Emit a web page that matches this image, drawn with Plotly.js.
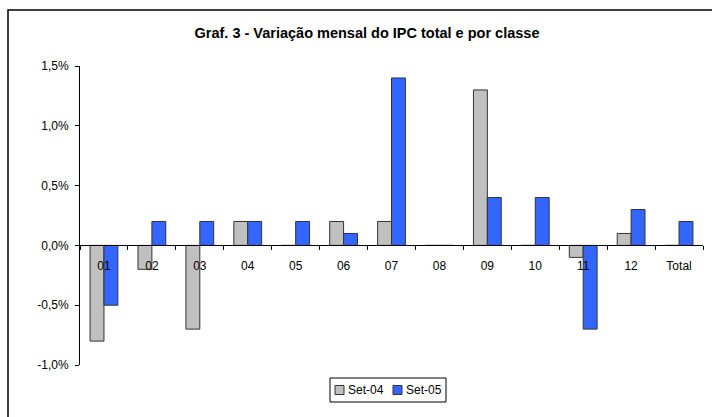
<!DOCTYPE html>
<html><head><meta charset="utf-8">
<script src="https://cdn.plot.ly/plotly-3.0.1.min.js"></script>
<style>html,body{margin:0;padding:0;background:#fff}#chart{width:712px;height:417px}</style>
</head><body><div id="chart"></div>
<script>
var categories = ["01","02","03","04","05","06","07","08","09","10","11","12","Total"];
var set04 = [-0.8,-0.2,-0.7,0.2,0,0.2,0.2,0,1.3,0,-0.1,0.1,0];
var set05 = [-0.5,0.2,0.2,0.2,0.2,0.1,1.4,0,0.4,0.4,-0.7,0.3,0.2];
var yTicks = [-1.0,-0.5,0,0.5,1.0,1.5];
var yTickText = ["-1,0%","-0,5%","0,0%","0,5%","1,0%","1,5%"];
var seriesNames = ["Set-04","Set-05"];
var seriesColors = ["#c0c0c0","#3366ff"];

var W=712,H=417,L=80,R=9,T=66,B=52;
var pw=W-L-R, ph=H-T-B;
function px(x){return (x-L)/pw;}
function py(y){return (H-B-y)/ph;}

var traces = [
 {type:'bar',name:seriesNames[0],x:categories,y:set04,marker:{color:seriesColors[0],line:{color:'#333',width:1}}},
 {type:'bar',name:seriesNames[1],x:categories,y:set05,marker:{color:seriesColors[1],line:{color:'#333',width:1}}}
];

var shapes = [
 {type:'rect',xref:'paper',yref:'paper',x0:px(8),y0:py(10),x1:px(730),y1:py(440),line:{color:'#000',width:1.5},fillcolor:'rgba(0,0,0,0)',layer:'below'},
 {type:'rect',xref:'paper',yref:'paper',x0:px(330),y0:py(378),x1:px(446),y1:py(402),line:{color:'#000',width:1},fillcolor:'#fff'}
];
var annotations = [];
var legX = [335,393];
for (var i=0;i<seriesNames.length;i++){
  shapes.push({type:'rect',xref:'paper',yref:'paper',x0:px(legX[i]),y0:py(385.5),x1:px(legX[i]+9),y1:py(394.5),line:{color:'#333',width:1},fillcolor:seriesColors[i]});
  annotations.push({xref:'paper',yref:'paper',x:px(legX[i]+11),y:py(390),xanchor:'left',yanchor:'middle',text:seriesNames[i],showarrow:false,font:{size:12}});
}

var layout = {
 width:W,height:H,margin:{l:L,r:R,t:T,b:B},
 paper_bgcolor:'#fff',plot_bgcolor:'#fff',
 font:{family:'Liberation Sans, Arial, sans-serif',size:12,color:'#000'},
 title:{text:'<b>Graf. 3 - Variação mensal do IPC total e por classe</b>',font:{size:14.5},xref:'container',x:367/W,xanchor:'center',yref:'container',y:1-33/H,yanchor:'middle'},
 barmode:'group',bargap:0.42,bargroupgap:0,
 showlegend:false,
 xaxis:{type:'category',anchor:'free',position:1/2.5,showline:true,linecolor:'#000',linewidth:1,ticks:'outside',tickson:'boundaries',ticklen:4,tickcolor:'#000',showgrid:false,zeroline:false,tickfont:{size:12},ticklabelstandoff:9},
 yaxis:{range:[-1.0,1.5],tickvals:yTicks,ticktext:yTickText,showline:true,linecolor:'#000',linewidth:1,ticks:'outside',ticklen:4,tickcolor:'#000',showgrid:false,zeroline:false,tickfont:{size:12},ticklabelstandoff:4},
 shapes:shapes,
 annotations:annotations
};
Plotly.newPlot('chart',traces,layout,{displayModeBar:false,staticPlot:true});
</script></body></html>
